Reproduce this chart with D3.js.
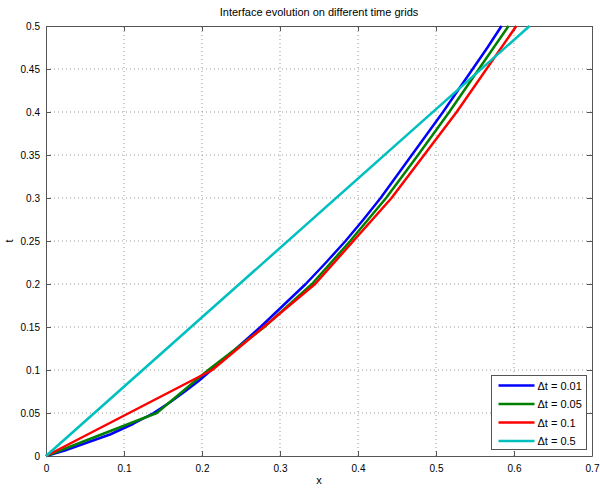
<!DOCTYPE html>
<html lang="en">
<head>
<meta charset="UTF-8">
<title>Interface evolution</title>
<script src="https://d3js.org/d3.v7.min.js"></script>
<style>
  body { margin: 0; background: #fff; }
  text { font-family: "Liberation Sans", Arial, sans-serif; fill: #000; }
  .grid line { stroke: #999; stroke-dasharray: 1 3; stroke-width: 1; }
</style>
</head>
<body>
<script>
// values (x position of the interface at time t)
const tFine = [0, 0.00625, 0.0125, 0.025, 0.0375, 0.05, 0.0625, 0.075, 0.0875, 0.1, 0.125, 0.15,
               0.175, 0.2, 0.225, 0.25, 0.275, 0.3, 0.325, 0.35, 0.375, 0.4, 0.425, 0.45, 0.475, 0.5];
const xDt001 = [0, 0.024, 0.043, 0.082, 0.112, 0.138, 0.159, 0.178, 0.196, 0.212, 0.244, 0.275,
                0.304, 0.333, 0.359, 0.384, 0.407, 0.429, 0.449, 0.469, 0.489, 0.509, 0.528, 0.547, 0.566, 0.584];
const t005 = [0, 0.05, 0.1, 0.15, 0.2, 0.25, 0.3, 0.35, 0.4, 0.45, 0.5];
const xDt005 = [0, 0.142, 0.208, 0.28, 0.341, 0.39, 0.436, 0.477, 0.517, 0.555, 0.593];
const t01 = [0, 0.1, 0.2, 0.3, 0.4, 0.5];
const xDt01 = [0, 0.213, 0.345, 0.443, 0.5265, 0.603];
const t05 = [0, 0.5];
const xDt05 = [0, 0.62];

const xTicks = [0, 0.1, 0.2, 0.3, 0.4, 0.5, 0.6, 0.7];
const yTicks = [0, 0.05, 0.1, 0.15, 0.2, 0.25, 0.3, 0.35, 0.4, 0.45, 0.5];

const series = [
  { label: "\u0394t = 0.01", t: tFine, x: xDt001, color: "#0000ff" },
  { label: "\u0394t = 0.05", t: t005, x: xDt005, color: "#008000" },
  { label: "\u0394t = 0.1", t: t01, x: xDt01, color: "#ff0000" },
  { label: "\u0394t = 0.5", t: t05, x: xDt05, color: "#00bfbf" }
];

const W = 600, H = 488;
const m = { left: 46, right: 8, top: 26, bottom: 32 };

const svg = d3.select("body").append("svg")
  .attr("width", W).attr("height", H);

const x = d3.scaleLinear().domain([0, 0.7]).range([m.left, W - m.right]);
const y = d3.scaleLinear().domain([0, 0.5]).range([H - m.bottom, m.top]);

// grid
const grid = svg.append("g").attr("class", "grid");
grid.selectAll(".gx").data(xTicks.slice(1, -1)).enter().append("line")
  .attr("x1", d => x(d)).attr("x2", d => x(d))
  .attr("y1", y(0)).attr("y2", y(0.5));
grid.selectAll(".gy").data(yTicks.slice(1, -1)).enter().append("line")
  .attr("x1", x(0)).attr("x2", x(0.7))
  .attr("y1", d => y(d)).attr("y2", d => y(d));

// axes with inward ticks
const fmt = d => d3.format("")(+d.toFixed(2));
const axB = svg.append("g").attr("transform", `translate(0,${y(0)})`)
  .call(d3.axisBottom(x).tickValues(xTicks).tickSizeInner(-5).tickSizeOuter(0).tickPadding(9).tickFormat(fmt));
const axT = svg.append("g").attr("transform", `translate(0,${y(0.5)})`)
  .call(d3.axisTop(x).tickValues(xTicks).tickSizeInner(-5).tickSizeOuter(0).tickFormat(""));
const axL = svg.append("g").attr("transform", `translate(${x(0)},0)`)
  .call(d3.axisLeft(y).tickValues(yTicks).tickSizeInner(-5).tickSizeOuter(0).tickPadding(6).tickFormat(fmt));
const axR = svg.append("g").attr("transform", `translate(${x(0.7)},0)`)
  .call(d3.axisRight(y).tickValues(yTicks).tickSizeInner(-5).tickSizeOuter(0).tickFormat(""));

[axB, axT, axL, axR].forEach(a => {
  a.select(".domain").attr("stroke", "#555");
  a.selectAll(".tick line").attr("stroke", "#555");
  a.selectAll("text").style("font-size", "10px").attr("fill", "#000");
});

// curves
const line = d3.line().x(d => x(d[0])).y(d => y(d[1]));
series.forEach(s => {
  svg.append("path")
    .datum(s.x.map((v, i) => [v, s.t[i]]))
    .attr("d", line)
    .attr("fill", "none")
    .attr("stroke", s.color)
    .attr("stroke-width", 2.5)
    .attr("stroke-linejoin", "round");
});

// title and labels
svg.append("text").attr("x", (x(0) + x(0.7)) / 2).attr("y", 16)
  .attr("text-anchor", "middle").style("font-size", "11px")
  .text("Interface evolution on different time grids");
svg.append("text").attr("x", (x(0) + x(0.7)) / 2).attr("y", 484)
  .attr("text-anchor", "middle").style("font-size", "11px").text("x");
svg.append("text").attr("transform", `translate(13,${(y(0) + y(0.5)) / 2}) rotate(-90)`)
  .attr("text-anchor", "middle").style("font-size", "11px").text("t");

// legend
const lg = svg.append("g").attr("transform", "translate(491.5,375.5)");
lg.append("rect").attr("width", 95).attr("height", 74)
  .attr("fill", "#fff").attr("stroke", "#555");
series.forEach((s, i) => {
  const yy = 10 + i * 18.5;
  lg.append("line").attr("x1", 7).attr("x2", 43).attr("y1", yy).attr("y2", yy)
    .attr("stroke", s.color).attr("stroke-width", 2.5);
  lg.append("text").attr("x", 46).attr("y", yy + 4)
    .style("font-size", "11px").text(s.label);
});
</script>
</body>
</html>
